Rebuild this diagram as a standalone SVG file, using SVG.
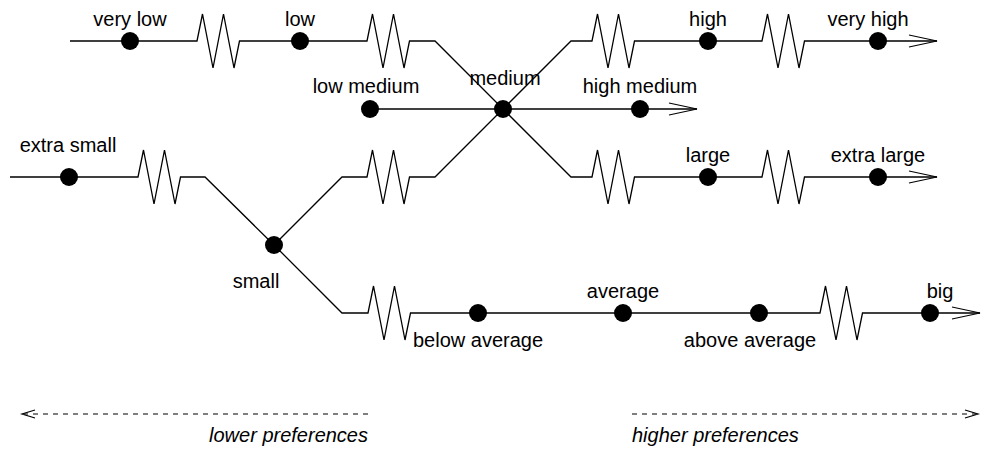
<svg xmlns="http://www.w3.org/2000/svg" width="983" height="452" viewBox="0 0 983 452">
<style>
.w{fill:none;stroke:#000;stroke-width:1.3;stroke-linejoin:miter}
.a{fill:none;stroke:#000;stroke-width:1.2}
.d{fill:none;stroke:#000;stroke-width:1.1;stroke-dasharray:5,5}
.dot{fill:#000}
text{font-family:"Liberation Sans",Arial,Helvetica,sans-serif;font-size:20px;fill:#000;text-anchor:middle}
.i{font-style:italic}
</style>
<rect width="983" height="452" fill="#fff"/>
<g id="connectors">
<path class="w" d="M70,41 H197 l5.5,-27 l10.5,54 l10.5,-54 l10.5,54 l5.5,-27 H367 l5.5,-27 l10.5,54 l10.5,-54 l10.5,54 l5.5,-27 H435 L503,109"/>
<path class="w" d="M503,109 L571,41 H592 l5.5,-27 l10.5,54 l10.5,-54 l10.5,54 l5.5,-27 H762 l5.5,-27 l10.5,54 l10.5,-54 l10.5,54 l5.5,-27 H937"/>
<path class="a" d="M909,35 L937,41 L909,47"/>
<path class="w" d="M370,109 H697"/>
<path class="a" d="M669,103 L697,109 L669,115"/>
<path class="w" d="M503,109 L571,177 H592 l5.5,-27 l10.5,54 l10.5,-54 l10.5,54 l5.5,-27 H762 l5.5,-27 l10.5,54 l10.5,-54 l10.5,54 l5.5,-27 H937"/>
<path class="a" d="M909,171 L937,177 L909,183"/>
<path class="w" d="M274,245 L342,177 H367 l5.5,-27 l10.5,54 l10.5,-54 l10.5,54 l5.5,-27 H435 L503,109"/>
<path class="w" d="M10,177 H138 l5.5,-27 l10.5,54 l10.5,-54 l10.5,54 l5.5,-27 H205 L274,245"/>
<path class="w" d="M274,245 L342,313 H368 l5.5,-27 l10.5,54 l10.5,-54 l10.5,54 l5.5,-27 H820 l5.5,-27 l10.5,54 l10.5,-54 l10.5,54 l5.5,-27 H980"/>
<path class="a" d="M952,307 L980,313 L952,319"/>
<path class="d" d="M368,414 H24"/>
<path class="a" d="M35,410 L22,414 L35,418"/>
<path class="d" d="M632,414 H976"/>
<path class="a" d="M965,410 L978,414 L965,418"/>
</g>
<g id="very-low"><circle class="dot" cx="130" cy="41" r="9"/><text x="130" y="26">very low</text></g>
<g id="low"><circle class="dot" cx="300" cy="41" r="9"/><text x="300" y="26">low</text></g>
<g id="medium"><circle class="dot" cx="503" cy="109" r="9"/><text x="505" y="85">medium</text></g>
<g id="high"><circle class="dot" cx="708" cy="41" r="9"/><text x="708" y="26">high</text></g>
<g id="very-high"><circle class="dot" cx="878" cy="41" r="9"/><text x="868" y="26">very high</text></g>
<g id="low-medium"><circle class="dot" cx="370" cy="109" r="9"/><text x="366" y="93">low medium</text></g>
<g id="high-medium"><circle class="dot" cx="640" cy="109" r="9"/><text x="640" y="93">high medium</text></g>
<g id="extra-small"><circle class="dot" cx="69" cy="177" r="9"/><text x="68" y="152">extra small</text></g>
<g id="large"><circle class="dot" cx="708" cy="177" r="9"/><text x="708" y="162">large</text></g>
<g id="extra-large"><circle class="dot" cx="878" cy="177" r="9"/><text x="878" y="162">extra large</text></g>
<g id="small"><circle class="dot" cx="274" cy="245" r="9"/><text x="256" y="288">small</text></g>
<g id="below-average"><circle class="dot" cx="478" cy="313" r="9"/><text x="478" y="347">below average</text></g>
<g id="average"><circle class="dot" cx="623" cy="313" r="9"/><text x="623" y="298">average</text></g>
<g id="above-average"><circle class="dot" cx="759" cy="313" r="9"/><text x="750" y="347">above average</text></g>
<g id="big"><circle class="dot" cx="930" cy="313" r="9"/><text x="940" y="298">big</text></g>
<g id="legend">
<text class="i" x="368" y="442" style="text-anchor:end">lower preferences</text>
<text class="i" x="632" y="442" style="text-anchor:start">higher preferences</text>
</g>
</svg>
